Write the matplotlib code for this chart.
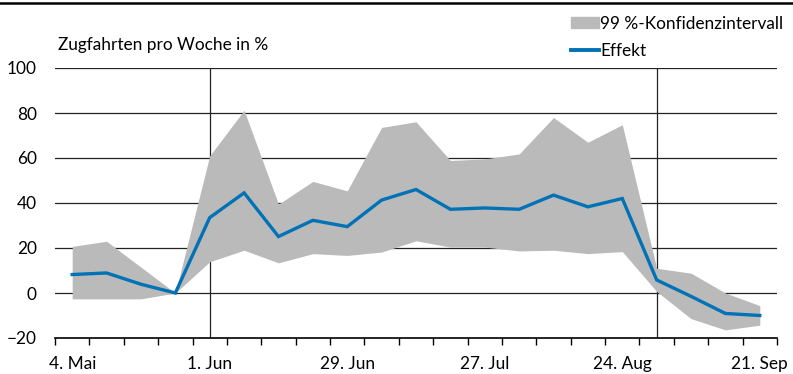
import matplotlib.pyplot as plt
from matplotlib.lines import Line2D
from matplotlib.patches import Patch
import numpy as np

plt.rcParams['font.family'] = ['Lato', 'DejaVu Sans']

weeks = ['4. Mai', '11. Mai', '18. Mai', '25. Mai', '1. Jun', '8. Jun', '15. Jun',
         '22. Jun', '29. Jun', '6. Jul', '13. Jul', '20. Jul', '27. Jul', '3. Aug',
         '10. Aug', '17. Aug', '24. Aug', '31. Aug', '7. Sep', '14. Sep', '21. Sep']
effekt = [8.2, 8.9, 3.9, 0, 33.5, 44.5, 25.1, 32.3, 29.5, 41.3, 46.0, 37.2,
          37.8, 37.2, 43.5, 38.3, 42.0, 5.8, -1.5, -9.1, -10.0]
ci_upper = [20.7, 23.0, 11.5, 0, 61.0, 81.2, 39.5, 49.6, 45.4, 73.6, 76.1, 58.9,
            59.6, 61.8, 78.0, 67.0, 74.8, 11.0, 8.8, 0.0, -5.6]
ci_lower = [-2.6, -2.6, -2.6, 0, 13.9, 19.0, 13.4, 17.5, 16.7, 18.2, 23.2, 20.4,
            20.4, 18.7, 19.0, 17.5, 18.4, 0.7, -11.4, -16.4, -14.3]
tick_labels = ['4. Mai', '1. Jun', '29. Jun', '27. Jul', '24. Aug', '21. Sep']
markers = ['1. Jun', '31. Aug']

FS = 12.4
x = np.arange(len(weeks))
fig = plt.figure(figsize=(7.93, 3.74), dpi=100)
ax = fig.add_axes([55 / 793, 1 - 338 / 374, (777 - 55) / 793, (338 - 68) / 374])

for y in range(0, 101, 20):
    ax.axhline(y, color='#222222', lw=0.9, zorder=1)
for m in markers:
    ax.axvline(weeks.index(m), color='#222222', lw=0.9, zorder=1)

ax.fill_between(x, ci_lower, ci_upper, color='#bababa', lw=0, zorder=2)
ax.plot(x, effekt, color='#0072b5', lw=2.4, zorder=3, solid_joinstyle='miter')

ax.set_xlim(-0.5, len(weeks) - 0.5)
ax.set_ylim(-20, 100)
ax.set_yticks(range(-20, 101, 20))
ax.set_yticklabels(['\u221220', '0', '20', '40', '60', '80', '100'])
ax.set_xticks([weeks.index(t) for t in tick_labels])
ax.set_xticklabels(tick_labels)
ax.set_xticks(np.arange(-0.5, len(weeks)), minor=True)
ax.tick_params(axis='x', which='major', length=0, pad=13, labelsize=FS)
ax.tick_params(axis='x', which='minor', length=5, width=1, color='black', direction='out')
ax.tick_params(axis='y', length=0, pad=13, labelsize=FS)
for s in ['top', 'right', 'left']:
    ax.spines[s].set_visible(False)
ax.spines['bottom'].set_linewidth(1.2)

fig.text(58 / 793, 1 - 45 / 374, 'Zugfahrten pro Woche in %', fontsize=FS, va='center', ha='left')

handles = [Patch(color='#bababa'), Line2D([0], [0], color='#0072b5', lw=2.8)]
fig.legend(handles, ['99 %-Konfidenzintervall', 'Effekt'], loc='upper left',
           bbox_to_anchor=(571 / 793, 1 - 16 / 374), frameon=False, fontsize=FS,
           handlelength=1.6, handleheight=0.6, handletextpad=0.1, labelspacing=0.65,
           borderaxespad=0, borderpad=0)

fig.add_artist(Line2D([0, 1], [1 - 2.5 / 374, 1 - 2.5 / 374], color='black', lw=1.8,
                      transform=fig.transFigure))

fig.savefig('out.png', dpi=100)
